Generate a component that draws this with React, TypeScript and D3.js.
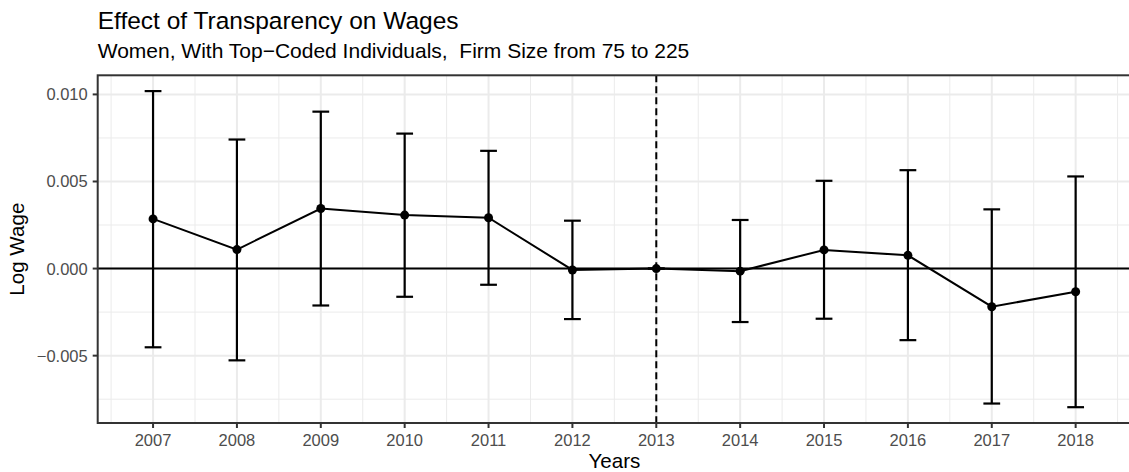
import { useEffect } from 'react'
import * as d3 from 'd3'

const years = [2007, 2008, 2009, 2010, 2011, 2012, 2013, 2014, 2015, 2016, 2017, 2018]
const estimate = [0.00285, 0.00109, 0.00345, 0.00307, 0.00292, -0.00008, 0, -0.00015, 0.00107, 0.00076, -0.00219, -0.00133]
const lower = [-0.00452, -0.00527, -0.00212, -0.00162, -0.00093, -0.0029, 0, -0.00307, -0.00288, -0.00411, -0.00775, -0.00796]
const upper = [0.01019, 0.00741, 0.00901, 0.00775, 0.00676, 0.00275, 0, 0.00279, 0.00504, 0.00565, 0.0034, 0.00529]
const yTicks = [-0.005, 0, 0.005, 0.01]
const yMinor = [-0.0075, -0.0025, 0.0025, 0.0075]
const treatYear = 2013

const W = 1129
const H = 472
const FONT = "'Liberation Sans', Arial, Helvetica, sans-serif"
const capWidth = 0.2

interface Row { year: number; est: number; lo: number; hi: number }
const rows: Row[] = years.map((y, i) => ({ year: y, est: estimate[i], lo: lower[i], hi: upper[i] }))

// ggplot-style 5% expansion
function expand([a, b]: [number, number]): [number, number] {
  const r = b - a
  return [a - r * 0.05, b + r * 0.05]
}

export default function App() {
  useEffect(() => {
    document.body.style.margin = '0'
  }, [])

  const panel = { left: 97.7, top: 75.3, right: 1131, bottom: 423 }

  const x = d3.scaleLinear()
    .domain(expand([years[0] - capWidth / 2, years[years.length - 1] + capWidth / 2]))
    .range([panel.left, panel.right])
  const y = d3.scaleLinear()
    .domain(expand([d3.min(lower) as number, d3.max(upper) as number]))
    .range([panel.bottom, panel.top])

  const xMinor = years.slice(0, -1).map(v => v + 0.5).concat([years[0] - 0.5, years[years.length - 1] + 0.5])

  const line = d3.line<Row>().x(d => x(d.year)).y(d => y(d.est))
  const half = (x(capWidth) - x(0)) / 2

  return (
    <svg width={W} height={H} style={{ position: 'absolute', left: 0, top: 0, background: '#fff', fontFamily: FONT }}>
      <rect x={0} y={0} width={W} height={H} fill="#fff" />

      {/* grid */}
      {yMinor.map(v => (
        <line key={'ym' + v} x1={panel.left} x2={panel.right} y1={y(v)} y2={y(v)} stroke="#EBEBEB" strokeWidth={1} />
      ))}
      {xMinor.map(v => (
        <line key={'xm' + v} x1={x(v)} x2={x(v)} y1={panel.top} y2={panel.bottom} stroke="#EBEBEB" strokeWidth={1} />
      ))}
      {yTicks.map(v => (
        <line key={'yg' + v} x1={panel.left} x2={panel.right} y1={y(v)} y2={y(v)} stroke="#EBEBEB" strokeWidth={2} />
      ))}
      {years.map(v => (
        <line key={'xg' + v} x1={x(v)} x2={x(v)} y1={panel.top} y2={panel.bottom} stroke="#EBEBEB" strokeWidth={2} />
      ))}

      {/* reference lines */}
      <line x1={panel.left} x2={panel.right} y1={y(0)} y2={y(0)} stroke="#000" strokeWidth={2} />
      <line x1={x(treatYear)} x2={x(treatYear)} y1={panel.top} y2={panel.bottom} stroke="#000" strokeWidth={2} strokeDasharray="7,4" />

      {/* error bars */}
      {rows.map(d => (
        <g key={'eb' + d.year} stroke="#000" strokeWidth={2.2}>
          <line x1={x(d.year)} x2={x(d.year)} y1={y(d.lo)} y2={y(d.hi)} />
          <line x1={x(d.year) - half} x2={x(d.year) + half} y1={y(d.lo)} y2={y(d.lo)} />
          <line x1={x(d.year) - half} x2={x(d.year) + half} y1={y(d.hi)} y2={y(d.hi)} />
        </g>
      ))}

      <path d={line(rows) ?? ''} fill="none" stroke="#000" strokeWidth={2} />
      {rows.map(d => (
        <circle key={'pt' + d.year} cx={x(d.year)} cy={y(d.est)} r={4.5} fill="#000" />
      ))}

      {/* panel border */}
      <rect x={panel.left} y={panel.top} width={panel.right - panel.left} height={panel.bottom - panel.top}
        fill="none" stroke="#333333" strokeWidth={2} />

      {/* y axis */}
      {yTicks.map(v => (
        <g key={'yt' + v}>
          <line x1={panel.left - 5} x2={panel.left} y1={y(v)} y2={y(v)} stroke="#333333" strokeWidth={2} />
          <text x={panel.left - 10} y={y(v)} dy="0.36em" textAnchor="end" fontSize={16.5} fill="#4D4D4D">
            {d3.format('.3f')(v).replace('-', '\u2212')}
          </text>
        </g>
      ))}

      {/* x axis */}
      {years.map(v => (
        <g key={'xt' + v}>
          <line x1={x(v)} x2={x(v)} y1={panel.bottom} y2={panel.bottom + 5} stroke="#333333" strokeWidth={2} />
          <text x={x(v)} y={446} textAnchor="middle" fontSize={16.5} fill="#4D4D4D">{v}</text>
        </g>
      ))}

      <text x={(panel.left + panel.right) / 2} y={468} textAnchor="middle" fontSize={20.6} fill="#000">Years</text>
      <text transform={`translate(24,${(panel.top + panel.bottom) / 2}) rotate(-90)`} textAnchor="middle" fontSize={20.6} fill="#000">Log Wage</text>

      <text x={panel.left} y={28.5} fontSize={24.5} fill="#000">Effect of Transparency on Wages</text>
      <text x={panel.left} y={58} fontSize={21} fill="#000" style={{ whiteSpace: 'pre' }}>
        {'Women, With Top\u2212Coded Individuals,  Firm Size from 75 to 225'}
      </text>
    </svg>
  )
}
